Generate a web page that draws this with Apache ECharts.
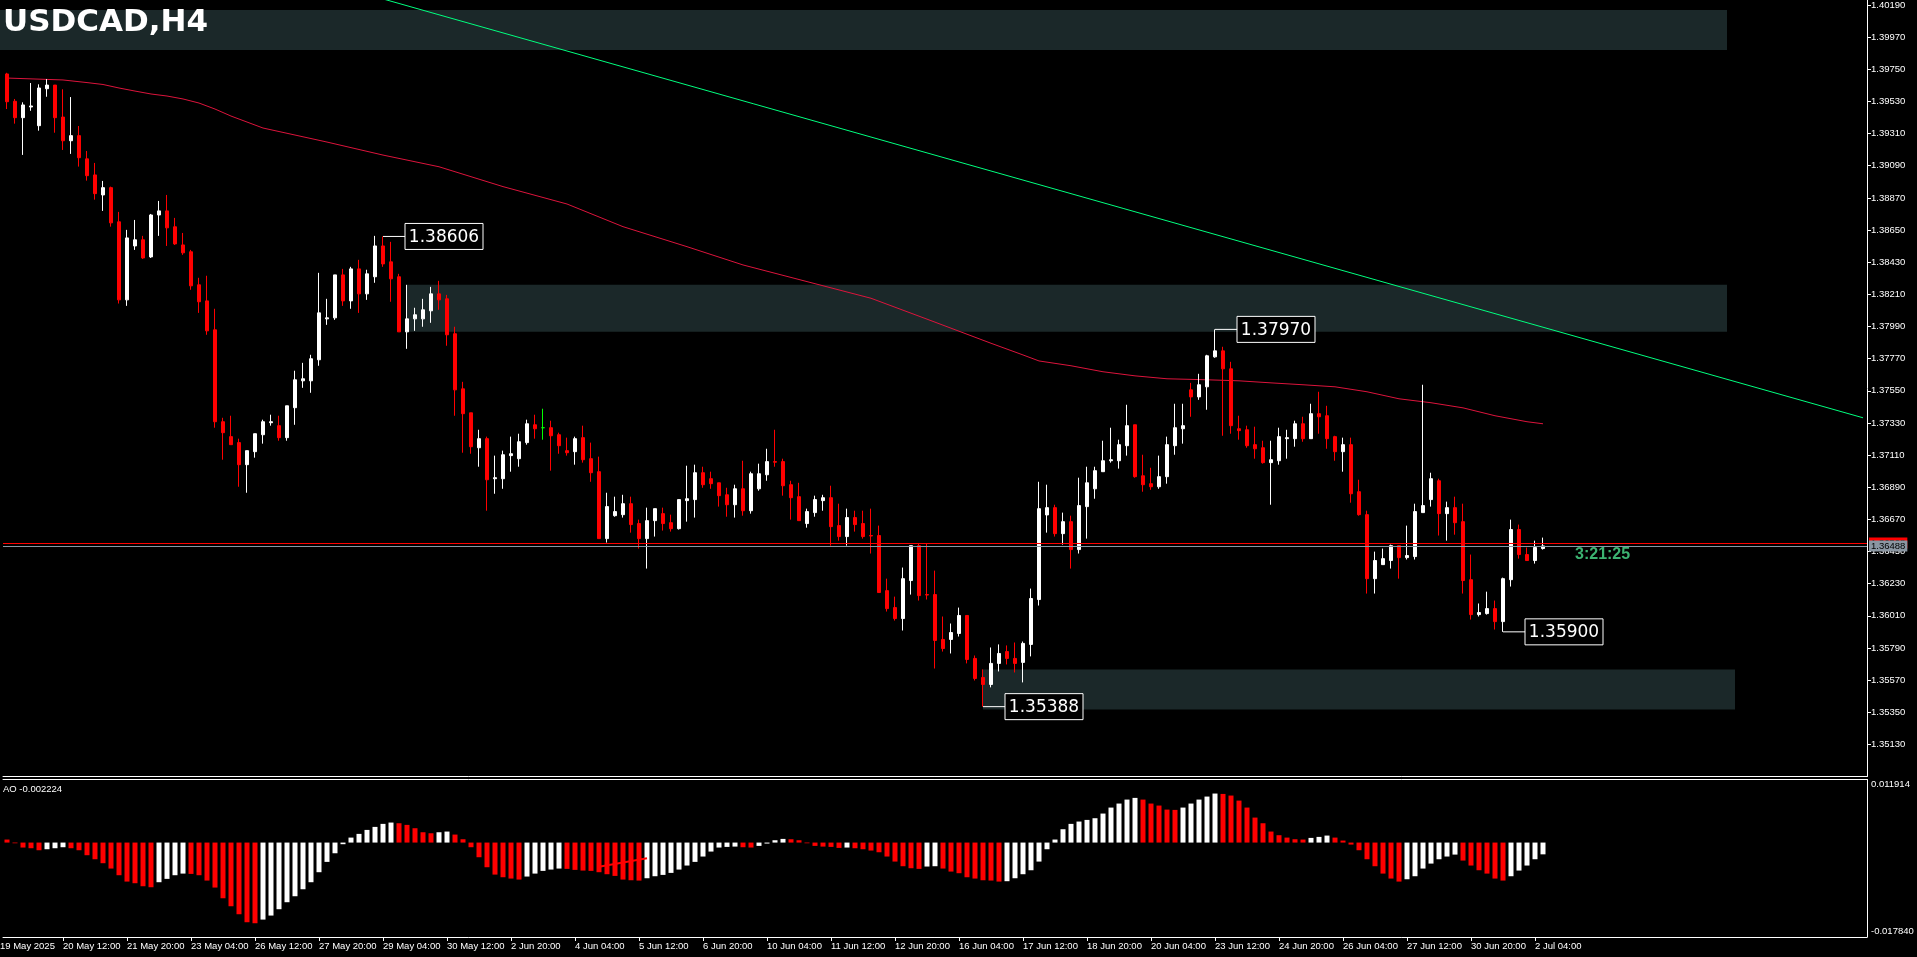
<!DOCTYPE html>
<html>
<head>
<meta charset="utf-8">
<title>USDCAD,H4</title>
<script src="https://cdn.jsdelivr.net/npm/echarts@6/dist/echarts.min.js"></script>
<style>
  html, body { margin: 0; padding: 0; background: #000; }
  #chart { width: 1917px; height: 957px; }
</style>
</head>
<body>
<div id="chart"></div>
<script>
// values, bar 0 = 19 May 08:00, bar 192 = 2 Jul 08:00
var firstLabel = '19 May 2025';
var tickLabels = ['20 May 12:00', '21 May 20:00', '23 May 04:00', '26 May 12:00', '27 May 20:00',
  '29 May 04:00', '30 May 12:00', '2 Jun 20:00', '4 Jun 04:00', '5 Jun 12:00', '6 Jun 20:00',
  '10 Jun 04:00', '11 Jun 12:00', '12 Jun 20:00', '16 Jun 04:00', '17 Jun 12:00', '18 Jun 20:00',
  '20 Jun 04:00', '23 Jun 12:00', '24 Jun 20:00', '26 Jun 04:00', '27 Jun 12:00', '30 Jun 20:00',
  '2 Jul 04:00'];

var opens = [1.39718,1.39531,1.39419,1.39492,1.39364,1.39617,1.39642,1.39423,1.39261,1.39296,
  1.39137,1.39027,1.38890,1.38940,1.38706,1.38172,1.38541,1.38583,1.38466,1.38753,
  1.38781,1.38672,1.38548,1.38501,1.38275,1.38165,1.37967,1.37338,1.37236,1.37195,
  1.37044,1.37133,1.37249,1.37331,1.37311,1.37229,1.37434,1.37618,1.37618,1.37762,
  1.38042,1.38049,1.38343,1.38165,1.38384,1.38213,1.38330,1.38541,1.38432,1.38330,
  1.37953,1.38042,1.38042,1.38097,1.38213,1.38179,1.37940,1.37563,1.37399,1.37160,
  1.37222,1.36948,1.36948,1.37106,1.37085,1.37195,1.37317,1.37297,1.37297,1.37249,
  1.37140,1.37133,1.37229,1.37085,1.36996,1.36538,1.36695,1.36702,1.36777,1.36641,
  1.36538,1.36661,1.36709,1.36647,1.36606,1.36798,1.36805,1.36989,1.36948,1.36920,
  1.36838,1.36770,1.36879,1.36729,1.36879,1.36975,1.37065,1.37065,1.36907,1.36825,
  1.36641,1.36716,1.36798,1.36818,1.36627,1.36552,1.36682,1.36641,1.36559,1.36559,
  1.36182,1.36066,1.35991,1.36251,1.36490,1.36155,1.36155,1.35848,1.35848,1.35889,
  1.36012,1.35718,1.35588,1.35540,1.35684,1.35765,1.35718,1.35691,1.35814,1.36121,
  1.36700,1.36750,1.36572,1.36654,1.36463,1.36757,1.36879,1.36996,1.37071,1.37071,
  1.37174,1.37317,1.36968,1.36914,1.36893,1.36962,1.37174,1.37290,1.37556,1.37508,
  1.37577,1.37782,1.37823,1.37700,1.37290,1.37283,1.37181,1.37160,1.37058,1.37071,
  1.37222,1.37222,1.37324,1.37222,1.37393,1.37379,1.37236,1.37133,1.37181,1.36859,
  1.36702,1.36264,1.36360,1.36388,1.36490,1.36408,1.36415,1.36716,1.36805,1.36934,
  1.36709,1.36750,1.36654,1.36257,1.36018,1.36025,1.36059,1.35970,1.36257,1.36600,
  1.36429,1.36388,1.36470];

var highs = [1.39726,1.39547,1.39524,1.39656,1.39647,1.39683,1.39642,1.39613,1.39560,1.39362,
  1.39191,1.39109,1.38986,1.38947,1.38774,1.38651,1.38719,1.38610,1.38760,1.38849,
  1.38890,1.38733,1.38630,1.38514,1.38323,1.38337,1.38111,1.37365,1.37379,1.37222,
  1.37140,1.37256,1.37352,1.37386,1.37379,1.37447,1.37687,1.37741,1.37796,1.38357,
  1.38179,1.38343,1.38384,1.38398,1.38446,1.38378,1.38610,1.38606,1.38569,1.38350,
  1.38275,1.38118,1.38179,1.38261,1.38302,1.38206,1.37988,1.37611,1.37399,1.37283,
  1.37236,1.37106,1.37140,1.37236,1.37256,1.37352,1.37386,1.37427,1.37345,1.37263,
  1.37229,1.37236,1.37311,1.37195,1.37099,1.36852,1.36825,1.36838,1.36825,1.36668,
  1.36750,1.36743,1.36750,1.36702,1.36805,1.37037,1.37044,1.37030,1.36996,1.36920,
  1.36886,1.36907,1.37071,1.36996,1.37051,1.37153,1.37283,1.37085,1.36934,1.36920,
  1.36743,1.36832,1.36838,1.36900,1.36777,1.36743,1.36729,1.36729,1.36743,1.36627,
  1.36264,1.36141,1.36340,1.36490,1.36504,1.36504,1.36319,1.36005,1.35957,1.36066,
  1.36012,1.35738,1.35643,1.35793,1.35814,1.35807,1.35827,1.35834,1.36196,1.36927,
  1.36907,1.36770,1.36716,1.36695,1.36955,1.37030,1.37030,1.37208,1.37297,1.37215,
  1.37454,1.37317,1.37112,1.37023,1.37106,1.37236,1.37461,1.37461,1.37604,1.37666,
  1.37796,1.37970,1.37851,1.37748,1.37379,1.37311,1.37304,1.37208,1.37208,1.37297,
  1.37283,1.37345,1.37372,1.37461,1.37543,1.37447,1.37242,1.37229,1.37229,1.36941,
  1.36729,1.36449,1.36470,1.36497,1.36490,1.36627,1.36777,1.37591,1.36989,1.36948,
  1.36791,1.36825,1.36777,1.36429,1.36094,1.36175,1.36114,1.36271,1.36668,1.36634,
  1.36477,1.36524,1.36545];

var lows = [1.39478,1.39378,1.39164,1.39466,1.39330,1.39562,1.39316,1.39198,1.39171,1.39084,
  1.38988,1.38858,1.38781,1.38673,1.38147,1.38131,1.38514,1.38452,1.38459,1.38610,
  1.38541,1.38548,1.38480,1.38241,1.38083,1.37933,1.37297,1.37078,1.37181,1.36893,
  1.36852,1.37092,1.37188,1.37311,1.37208,1.37208,1.37317,1.37570,1.37536,1.37721,
  1.38001,1.38035,1.38131,1.38111,1.38083,1.38172,1.38289,1.38398,1.38159,1.37953,
  1.37837,1.37960,1.37988,1.38015,1.38104,1.37858,1.37379,1.37126,1.37119,1.37030,
  1.36729,1.36845,1.36879,1.36996,1.37030,1.37181,1.37222,1.37215,1.37003,1.37119,
  1.37106,1.37044,1.37058,1.36927,1.36538,1.36511,1.36688,1.36682,1.36579,1.36470,
  1.36333,1.36552,1.36593,1.36586,1.36600,1.36654,1.36682,1.36886,1.36879,1.36757,
  1.36688,1.36682,1.36695,1.36709,1.36866,1.36934,1.37030,1.36832,1.36668,1.36661,
  1.36613,1.36688,1.36729,1.36490,1.36524,1.36490,1.36586,1.36538,1.36436,1.36169,
  1.36039,1.35977,1.35909,1.36155,1.36114,1.36121,1.35649,1.35765,1.35752,1.35868,
  1.35684,1.35567,1.35388,1.35520,1.35629,1.35677,1.35622,1.35554,1.35732,1.36080,
  1.36579,1.36552,1.36497,1.36333,1.36436,1.36538,1.36811,1.36996,1.37058,1.37017,
  1.37106,1.36955,1.36859,1.36872,1.36879,1.36914,1.37112,1.37188,1.37372,1.37488,
  1.37420,1.37776,1.37242,1.37256,1.37215,1.37160,1.37085,1.37051,1.36770,1.37044,
  1.37085,1.37167,1.37201,1.37222,1.37256,1.37153,1.37071,1.36996,1.36784,1.36695,
  1.36162,1.36162,1.36360,1.36333,1.36264,1.36395,1.36395,1.36716,1.36757,1.36559,
  1.36524,1.36565,1.36162,1.35984,1.36005,1.36018,1.35916,1.35900,1.36210,1.36401,
  1.36388,1.36367,1.36463];

var closes = [1.39528,1.39419,1.39506,1.39499,1.39622,1.39642,1.39419,1.39261,1.39296,1.39145,
  1.39022,1.38899,1.38940,1.38699,1.38172,1.38596,1.38583,1.38459,1.38753,1.38781,
  1.38665,1.38555,1.38494,1.38268,1.38159,1.37960,1.37338,1.37263,1.37181,1.37044,
  1.37140,1.37256,1.37338,1.37338,1.37229,1.37447,1.37625,1.37632,1.37769,1.38083,
  1.38049,1.38343,1.38165,1.38384,1.38213,1.38350,1.38541,1.38418,1.38316,1.37953,
  1.38042,1.38070,1.38104,1.38213,1.38172,1.37933,1.37556,1.37393,1.37167,1.37222,
  1.36941,1.36955,1.37112,1.37119,1.37201,1.37324,1.37290,1.37297,1.37242,1.37174,
  1.37126,1.37222,1.37078,1.36989,1.36538,1.36757,1.36723,1.36777,1.36634,1.36538,
  1.36661,1.36743,1.36641,1.36606,1.36805,1.36811,1.36989,1.36907,1.36914,1.36832,
  1.36770,1.36879,1.36729,1.36982,1.36982,1.37065,1.37061,1.36900,1.36818,1.36661,
  1.36723,1.36805,1.36818,1.36620,1.36552,1.36682,1.36634,1.36552,1.36556,1.36169,
  1.36059,1.35991,1.36264,1.36490,1.36148,1.36152,1.35841,1.35786,1.35895,1.36012,
  1.35711,1.35581,1.35540,1.35684,1.35752,1.35718,1.35684,1.35821,1.36128,1.36743,
  1.36750,1.36572,1.36654,1.36463,1.36764,1.36920,1.37003,1.37071,1.37078,1.37181,
  1.37311,1.36962,1.36907,1.36893,1.36962,1.37181,1.37297,1.37311,1.37508,1.37591,
  1.37789,1.37823,1.37700,1.37311,1.37277,1.37174,1.37153,1.37058,1.37078,1.37236,
  1.37229,1.37324,1.37222,1.37393,1.37372,1.37222,1.37133,1.37181,1.36845,1.36702,
  1.36264,1.36388,1.36401,1.36490,1.36408,1.36422,1.36723,1.36764,1.36948,1.36709,
  1.36750,1.36647,1.36251,1.36018,1.36032,1.36059,1.35970,1.36264,1.36600,1.36429,
  1.36388,1.36477,1.36488];

var dojiBars = [67];

// red moving average, sampled at these bars
var maBars = [0, 7, 10, 12, 14, 16, 18, 20, 22, 24, 26, 28, 30, 32, 40, 47, 54, 62, 70, 77, 85, 92,
  100, 108, 115, 123, 127, 129, 133, 137, 141, 145, 150, 154, 158, 162, 166, 170, 174, 178, 182,
  186, 190, 192];
var maValues = [1.39690, 1.39677, 1.39659, 1.39646, 1.39622, 1.39601, 1.39581, 1.39567, 1.39547,
  1.39519, 1.39478, 1.39430, 1.39389, 1.39348, 1.39252, 1.39163, 1.39083, 1.38947, 1.38828,
  1.38673, 1.38536, 1.38411, 1.38297, 1.38183, 1.38040, 1.37875, 1.37795, 1.37754, 1.37721,
  1.37680, 1.37652, 1.37632, 1.37625, 1.37618, 1.37604, 1.37591, 1.37577, 1.37543, 1.37495,
  1.37468, 1.37433, 1.37379, 1.37338, 1.37324];

// Awesome Oscillator
var aoValues = [0.00057,-0.00013,-0.00094,-0.00107,-0.00145,-0.00126,-0.00107,-0.00088,-0.00107,-0.00145,
  -0.00239,-0.00315,-0.00390,-0.00491,-0.00617,-0.00737,-0.00768,-0.00825,-0.00844,-0.00749,
  -0.00686,-0.00617,-0.00586,-0.00592,-0.00617,-0.00718,-0.00850,-0.01052,-0.01203,-0.01354,
  -0.01505,-0.01524,-0.01455,-0.01379,-0.01259,-0.01127,-0.01014,-0.00882,-0.00749,-0.00560,
  -0.00365,-0.00202,-0.00031,0.00094,0.00164,0.00239,0.00296,0.00353,0.00378,0.00365,
  0.00334,0.00271,0.00195,0.00176,0.00195,0.00208,0.00151,0.00063,-0.00088,-0.00277,
  -0.00466,-0.00605,-0.00655,-0.00680,-0.00699,-0.00642,-0.00586,-0.00535,-0.00510,-0.00491,
  -0.00497,-0.00516,-0.00529,-0.00535,-0.00560,-0.00598,-0.00630,-0.00699,-0.00712,-0.00718,
  -0.00674,-0.00636,-0.00611,-0.00573,-0.00510,-0.00434,-0.00365,-0.00264,-0.00170,-0.00094,
  -0.00082,-0.00076,-0.00088,-0.00094,-0.00063,-0.00019,0.00044,0.00069,0.00063,0.00044,
  -0.00013,-0.00063,-0.00076,-0.00082,-0.00101,-0.00094,-0.00107,-0.00126,-0.00151,-0.00183,
  -0.00264,-0.00359,-0.00447,-0.00485,-0.00497,-0.00453,-0.00447,-0.00491,-0.00548,-0.00579,
  -0.00655,-0.00680,-0.00712,-0.00718,-0.00737,-0.00730,-0.00674,-0.00598,-0.00523,-0.00359,
  -0.00126,0.00057,0.00252,0.00353,0.00397,0.00428,0.00460,0.00548,0.00661,0.00737,
  0.00812,0.00844,0.00812,0.00737,0.00699,0.00623,0.00617,0.00661,0.00737,0.00812,
  0.00869,0.00926,0.00919,0.00888,0.00793,0.00661,0.00472,0.00365,0.00208,0.00139,
  0.00094,0.00063,0.00057,0.00088,0.00107,0.00132,0.00094,0.00038,-0.00038,-0.00145,
  -0.00315,-0.00447,-0.00586,-0.00680,-0.00737,-0.00693,-0.00636,-0.00491,-0.00397,-0.00315,
  -0.00264,-0.00227,-0.00340,-0.00434,-0.00523,-0.00586,-0.00680,-0.00718,-0.00636,-0.00529,
  -0.00434,-0.00315,-0.002224];
var aoArrow = [[74, -0.00455], [80, -0.00297]];

// drawn objects
var trendLine = [[40, 1.40340], [232, 1.37365]];
var zones = [[-1, 1.40155, 215, 1.39882], [50, 1.38275, 215, 1.37953], [122, 1.35642, 216, 1.35369]];
var priceLabels = [[47, 1.38606], [151, 1.37970], [122, 1.35388], [187, 1.35900]];
var bidPrice = 1.36488;
var askPrice = 1.36508;
var timerText = '3:21:25';

var slotCount = 233;
var cats = [];
for (var i = 0; i < slotCount; i++) cats.push(String(i));

var candleData = opens.map(function (o, i) {
  var item = { value: [o, closes[i], lows[i], highs[i]] };
  if (dojiBars.indexOf(i) >= 0) {
    item.itemStyle = { color: '#00ff00', color0: '#00ff00', borderColor: '#00ff00', borderColor0: '#00ff00', borderColorDoji: '#00ff00' };
  }
  return item;
});

var aoData = aoValues.map(function (v, i) {
  var up = i > 0 && v > aoValues[i - 1];
  return { value: v, itemStyle: { color: up ? '#ffffff' : '#ff0000' } };
});

var maData = maBars.map(function (b, i) { return [b, maValues[i]]; });

var axisFont = 'Liberation Sans';
var showTick = function (index) {
  return index >= 7 && index <= 191 && (index - 7) % 8 === 0;
};

var myChart = echarts.init(document.getElementById('chart'));

var option = {
  backgroundColor: '#000000',
  animation: false,
  grid: [
    { left: 3, right: 50, top: 0, height: 776.5 },
    { left: 3, right: 50, top: 779.5, height: 157.5 }
  ],
  xAxis: [
    {
      type: 'category', gridIndex: 0, data: cats, boundaryGap: true,
      axisLine: { show: true, onZero: false, lineStyle: { color: '#ffffff', width: 1 } },
      axisTick: { show: false }, axisLabel: { show: false }, splitLine: { show: false }
    },
    {
      type: 'category', gridIndex: 1, data: cats, boundaryGap: true, position: 'bottom',
      axisLine: { show: true, onZero: false, lineStyle: { color: '#ffffff', width: 1 } },
      axisTick: { show: true, interval: showTick, alignWithLabel: true, length: 4, lineStyle: { color: '#ffffff' } },
      axisLabel: {
        show: true, interval: showTick, align: 'left', margin: 4,
        color: '#ffffff', fontFamily: axisFont, fontSize: 9.5,
        formatter: function (value) {
          var idx = Number(value);
          return tickLabels[(idx - 7) / 8] || '';
        }
      },
      splitLine: { show: false }
    },
    {
      type: 'category', gridIndex: 1, data: cats, boundaryGap: true, position: 'top',
      axisLine: { show: true, onZero: false, lineStyle: { color: '#ffffff', width: 1 } },
      axisTick: { show: false }, axisLabel: { show: false }, splitLine: { show: false }
    }
  ],
  yAxis: [
    {
      type: 'value', gridIndex: 0, position: 'right',
      min: 1.3491, max: 1.40223, interval: 0.0022,
      axisLine: { show: true, lineStyle: { color: '#ffffff', width: 1 } },
      axisTick: { show: true, length: 4, lineStyle: { color: '#ffffff' } },
      axisLabel: {
        color: '#ffffff', fontFamily: axisFont, fontSize: 9.5, margin: 4,
        showMinLabel: false, showMaxLabel: false,
        formatter: function (v) { return v.toFixed(5); }
      },
      splitLine: { show: false }
    },
    {
      type: 'value', gridIndex: 1, position: 'right',
      min: -0.01784, max: 0.011914, interval: 0.029754,
      axisLine: { show: true, lineStyle: { color: '#ffffff', width: 1 } },
      axisTick: { show: false },
      axisLabel: {
        color: '#ffffff', fontFamily: axisFont, fontSize: 9.5, margin: 4,
        formatter: function (v) {
          return v > 0 ? '{t|' + v.toFixed(6) + '}' : '{b|' + v.toFixed(6) + '}';
        },
        rich: {
          t: { color: '#ffffff', fontFamily: axisFont, fontSize: 9.5, padding: [9, 0, 0, 0] },
          b: { color: '#ffffff', fontFamily: axisFont, fontSize: 9.5, padding: [0, 0, 12, 0] }
        }
      },
      splitLine: { show: false }
    }
  ],
  graphic: [
    {
      type: 'text', x: 3, y: 22.5, z: 100,
      style: { text: 'USDCAD,H4', fill: '#ffffff', font: 'bold 31px "DejaVu Sans"', verticalAlign: 'middle' }
    },
    {
      type: 'text', x: 1575, y: 555, z: 100,
      style: { text: timerText, fill: '#3cb371', font: 'bold 16px "Liberation Sans"', verticalAlign: 'middle' }
    },
    {
      type: 'text', x: 3, y: 789, z: 100,
      style: { text: 'AO ' + aoValues[aoValues.length - 1].toFixed(6), fill: '#ffffff', font: '9.5px "Liberation Sans"', verticalAlign: 'middle' }
    },
    {
      type: 'text', x: 0, y: 946.5, z: 100,
      style: { text: firstLabel, fill: '#ffffff', font: '9.5px "Liberation Sans"', verticalAlign: 'middle' }
    }
  ],
  series: [
    {
      // rectangles drawn on the chart
      type: 'custom', name: 'zones', xAxisIndex: 0, yAxisIndex: 0, z: 1, silent: true,
      encode: { x: 0, y: 1 },
      data: zones,
      renderItem: function (params, api) {
        var a = api.coord([api.value(0), api.value(1)]);
        var b = api.coord([api.value(2), api.value(3)]);
        return {
          type: 'rect',
          shape: { x: a[0], y: a[1], width: b[0] - a[0], height: b[1] - a[1] },
          style: { fill: '#1b2829' }
        };
      }
    },
    {
      type: 'line', name: 'MA', xAxisIndex: 0, yAxisIndex: 0, z: 3,
      data: maData, symbol: 'none', silent: true,
      lineStyle: { color: '#dc143c', width: 1 }
    },
    {
      type: 'line', name: 'trend', xAxisIndex: 0, yAxisIndex: 0, z: 3,
      data: trendLine, symbol: 'none', silent: true, clip: true,
      lineStyle: { color: '#00ff7f', width: 1 }
    },
    {
      type: 'candlestick', name: 'USDCAD', xAxisIndex: 0, yAxisIndex: 0, z: 4,
      data: candleData, barWidth: 4,
      itemStyle: {
        color: '#ffffff', color0: '#ff0000',
        borderColor: '#ffffff', borderColor0: '#ff0000', borderWidth: 1
      },
      markLine: {
        silent: true, symbol: ['none', 'none'], precision: 5,
        label: {
          position: 'end', distance: 2, fontFamily: axisFont, fontSize: 9.5,
          padding: [1, 2, 0, 2], color: '#000000',
          formatter: function (p) { return Number(p.value).toFixed(5); }
        },
        data: [
          { yAxis: askPrice, lineStyle: { color: '#ff0000', width: 1, type: 'solid' }, label: { backgroundColor: '#ff0000' } },
          { yAxis: bidPrice, lineStyle: { color: '#8a96a2', width: 1, type: 'solid' }, label: { backgroundColor: '#8a96a2' } }
        ]
      }
    },
    {
      // high / low price labels
      type: 'custom', name: 'labels', xAxisIndex: 0, yAxisIndex: 0, z: 6, silent: true,
      encode: { x: 0, y: 1 },
      data: priceLabels,
      renderItem: function (params, api) {
        var p = api.coord([api.value(0), api.value(1)]);
        return {
          type: 'group',
          children: [
            { type: 'line', shape: { x1: p[0], y1: p[1], x2: p[0] + 22, y2: p[1] }, style: { stroke: '#ffffff', lineWidth: 1 } },
            { type: 'rect', shape: { x: p[0] + 22, y: p[1] - 13, width: 78, height: 26 }, style: { fill: '#000000', stroke: '#ffffff', lineWidth: 1 } },
            { type: 'text', style: { x: p[0] + 61, y: p[1] + 1, text: api.value(1).toFixed(5), fill: '#ffffff', font: '17px "DejaVu Sans"', align: 'center', verticalAlign: 'middle' } }
          ]
        };
      }
    },
    {
      type: 'bar', name: 'AO', xAxisIndex: 1, yAxisIndex: 1, z: 3,
      data: aoData, barWidth: 5, silent: true
    },
    {
      type: 'line', name: 'AO arrow', xAxisIndex: 1, yAxisIndex: 1, z: 4,
      data: aoArrow, symbol: 'none', silent: true,
      lineStyle: { color: '#ff0000', width: 2 }
    }
  ]
};

myChart.setOption(option);
</script>
</body>
</html>
